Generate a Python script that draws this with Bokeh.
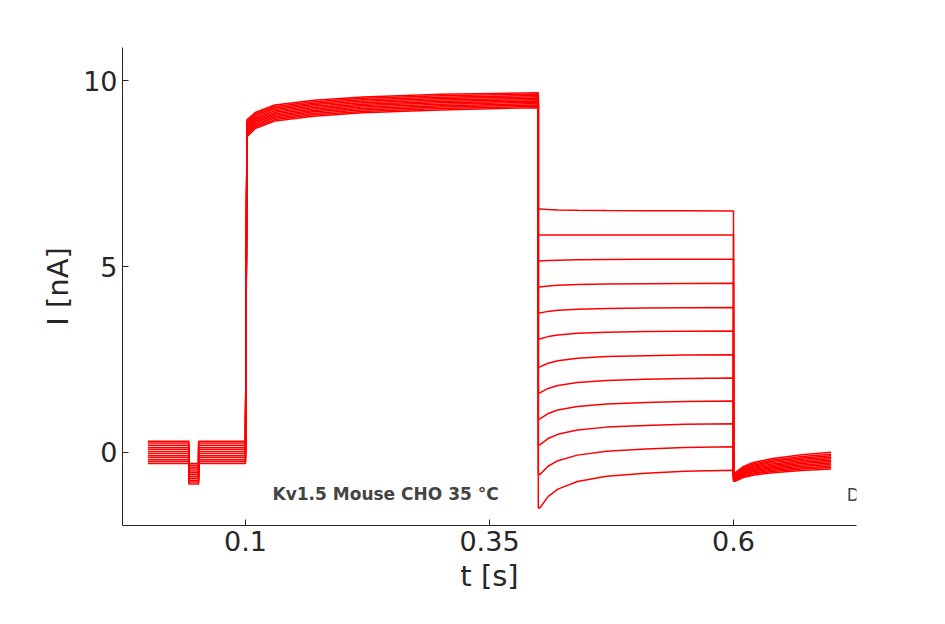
from bokeh.plotting import figure
from bokeh.models import Range1d, FixedTicker, Label
from bokeh.embed import file_html
from bokeh.resources import INLINE

# 12 sweeps, values
hold_level = [0.3, 0.25, 0.19, 0.13, 0.08, 0.02, -0.03, -0.09, -0.14, -0.2, -0.25, -0.3]
dip_level = [-0.3, -0.35, -0.4, -0.45, -0.5, -0.55, -0.6, -0.65, -0.7, -0.75, -0.8, -0.85]
t_hold = [0.0, 0.042, 0.042, 0.052, 0.052, 0.1]

t_step = [0.1, 0.1015, 0.11, 0.13, 0.17, 0.22, 0.3, 0.4]
step_top = [0.3, 8.95, 9.15, 9.35, 9.48, 9.57, 9.64, 9.68]
step_bot = [-0.3, 8.5, 8.72, 8.92, 9.05, 9.14, 9.22, 9.28]

t_tail = [0.4, 0.4015, 0.41, 0.42, 0.44, 0.47, 0.51, 0.55, 0.6]
tail_start = [6.55, 5.85, 5.15, 4.45, 3.75, 3.05, 2.3, 1.6, 0.9, 0.2, -0.6, -1.5]
tail_end = [6.5, 5.85, 5.2, 4.55, 3.9, 3.27, 2.63, 2.0, 1.38, 0.77, 0.15, -0.48]
tail_shape = [0.0, 0.0, 0.3, 0.5, 0.7, 0.84, 0.92, 0.97, 1.0]

t_deact = [0.6, 0.6015, 0.61, 0.62, 0.64, 0.67, 0.7]
deact_start = [-0.55, -0.58, -0.6, -0.62, -0.64, -0.66, -0.68, -0.7, -0.72, -0.74, -0.76, -0.78]
deact_end = [0.0, -0.05, -0.09, -0.13, -0.17, -0.21, -0.25, -0.29, -0.33, -0.37, -0.41, -0.45]
deact_shape = [0.0, 0.0, 0.3, 0.5, 0.7, 0.88, 1.0]

p = figure(width=929, height=608, output_backend="svg", toolbar_location=None,
           x_range=Range1d(-0.026, 0.726), y_range=Range1d(-1.97, 10.9),
           min_border_left=122, min_border_right=73, min_border_top=47, min_border_bottom=83)
p.outline_line_color = None
p.grid.visible = False
p.background_fill_color = "white"

n = len(hold_level)
for i in range(n):
    f = i / (n - 1)
    xs, ys = [], []
    h, d = hold_level[i], dip_level[i]
    xs += t_hold
    ys += [h, h, d, d, h, h]
    xs += t_step
    ys += [h] + [step_top[k] * (1 - f) + step_bot[k] * f for k in range(1, len(t_step))]
    xs += t_tail
    ys += [tail_start[i] + (tail_end[i] - tail_start[i]) * s for s in tail_shape]
    xs += t_deact
    ys += [deact_start[i] + (deact_end[i] - deact_start[i]) * s for s in deact_shape]
    p.line(xs, ys, color="red", line_width=1.5)

for ax in (p.xaxis[0], p.yaxis[0]):
    ax.major_label_text_font = "DejaVu Sans"
    ax.major_label_text_font_size = "27px"
    ax.major_label_text_color = "#262626"
    ax.axis_label_text_font = "DejaVu Sans"
    ax.axis_label_text_font_size = "29px"
    ax.axis_label_text_font_style = "normal"
    ax.axis_label_text_color = "#262626"
    ax.minor_tick_line_color = None
    ax.major_tick_in = 6
    ax.major_tick_out = 0
    ax.axis_line_color = "#262626"
    ax.major_tick_line_color = "#262626"
p.xaxis.ticker = FixedTicker(ticks=[0.1, 0.35, 0.6])
p.xaxis.major_label_overrides = {0.1: "0.1", 0.35: "0.35", 0.6: "0.6"}
p.yaxis.ticker = FixedTicker(ticks=[0, 5, 10])
p.xaxis.axis_label = "t [s]"
p.yaxis.axis_label = "I [nA]"

p.add_layout(Label(x=150, y=32, x_units="screen", y_units="screen",
                   text="Kv1.5  Mouse  CHO  35 °C", text_font="DejaVu Sans",
                   text_font_size="17px", text_font_style="bold", text_baseline="middle"))
p.add_layout(Label(x=832, y=31, x_units="screen", y_units="screen",
                   text="Deactivation", text_font="DejaVu Sans", text_align="right",
                   text_font_size="17px", text_baseline="middle"))
p.add_layout(Label(x=842, y=279, x_units="screen", y_units="screen",
                   text="BBP Channelpedia ID 33960 rep 2", text_font="DejaVu Sans",
                   text_font_size="17px", angle=1.5708, text_align="center",
                   text_baseline="middle"))

open("out.html", "w").write(file_html(p, INLINE))
